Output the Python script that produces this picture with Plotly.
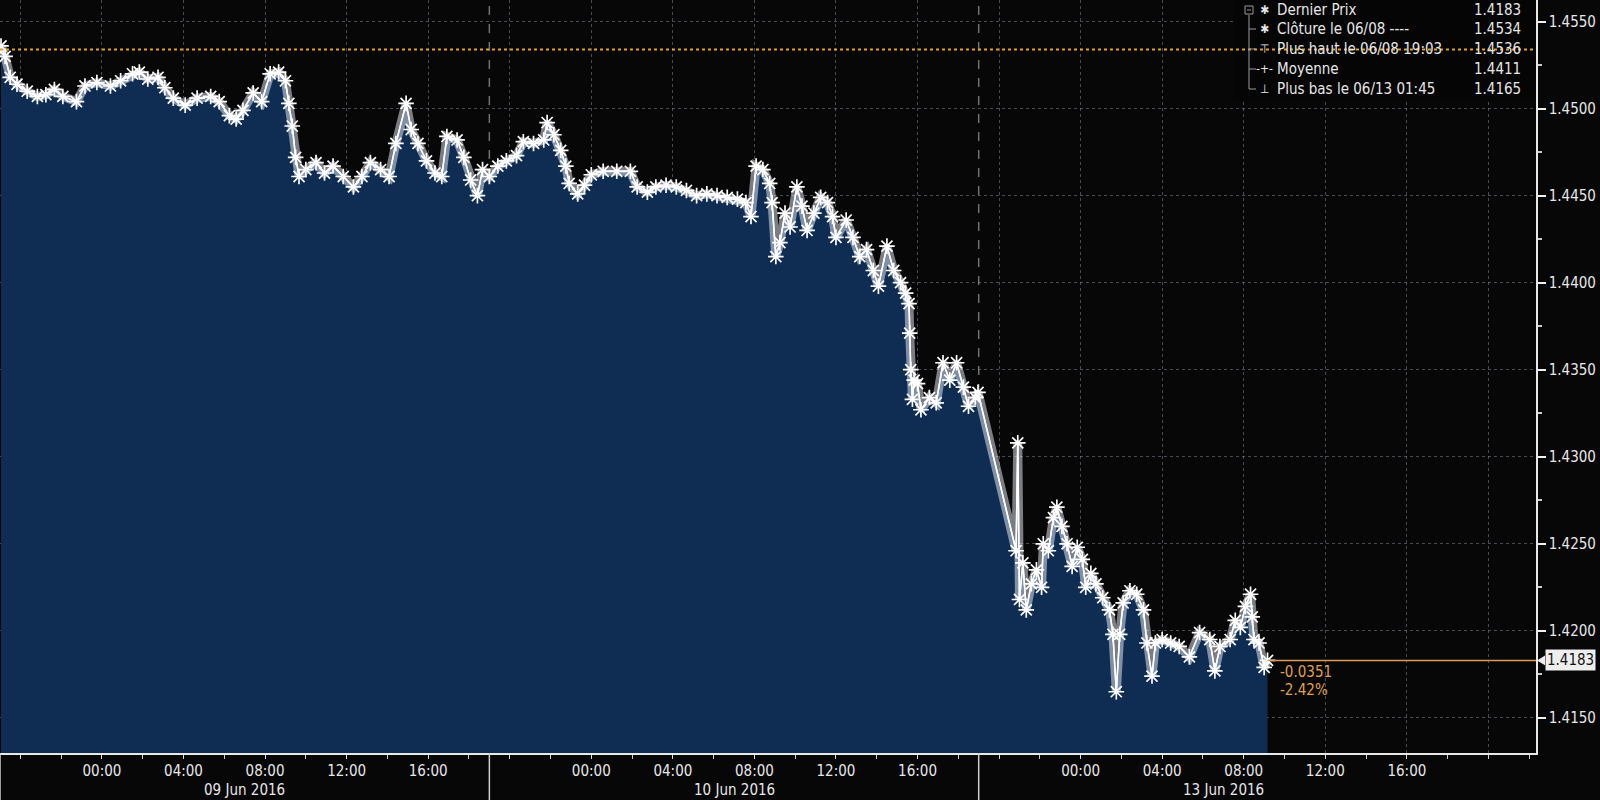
import plotly.graph_objects as go

# ---------------- data ----------------
t_0608 = ["19:03", "19:15", "19:30", "19:50", "20:20", "20:50", "21:15", "21:40", "22:05", "22:45", "23:10", "23:45"]
p_0608 = [1.4536, 1.4530, 1.4518, 1.4514, 1.4510, 1.4507, 1.4508, 1.4511, 1.4507, 1.4504, 1.4513, 1.4515]

t_0609 = ["00:25", "00:55", "01:30", "01:50", "02:15", "02:45", "03:05", "03:30", "04:05", "04:40",
          "05:20", "05:45", "06:15", "06:35", "06:55", "07:25", "07:50", "08:15", "08:40", "09:00",
          "09:10", "09:20", "09:30", "09:40", "10:00", "10:30", "10:55", "11:20", "11:50", "12:20",
          "12:45", "13:10", "13:40", "14:05", "14:25", "14:55", "15:10", "15:30", "15:55", "16:20",
          "16:40", "16:55", "17:25", "17:45", "18:05", "18:25", "18:40", "19:00", "19:25", "19:50",
          "20:20", "20:40", "21:10", "21:40", "21:50", "22:10", "22:30", "22:45", "22:55", "23:20",
          "23:40"]
p_0609 = [1.4513, 1.4516, 1.4520, 1.4521, 1.4517, 1.4518, 1.4512, 1.4506, 1.4502, 1.4506,
          1.4507, 1.4504, 1.4496, 1.4494, 1.4499, 1.4509, 1.4504, 1.4520, 1.4521, 1.4516,
          1.4503, 1.4490, 1.4472, 1.4461, 1.4465, 1.4469, 1.4463, 1.4467, 1.4461, 1.4455,
          1.4461, 1.4469, 1.4465, 1.4461, 1.4480, 1.4503, 1.4488, 1.4480, 1.4470, 1.4463,
          1.4461, 1.4484, 1.4482, 1.4472, 1.4459, 1.4450, 1.4465, 1.4461, 1.4467, 1.4470,
          1.4473, 1.4481, 1.4480, 1.4482, 1.4492, 1.4485, 1.4476, 1.4467, 1.4457, 1.4451,
          1.4456]

t_0610 = ["00:00", "00:35", "01:15", "01:55", "02:15", "02:45", "03:10", "03:40", "04:10", "04:40",
          "05:10", "05:40", "06:10", "06:40", "07:10", "07:35", "07:50", "08:05", "08:25", "08:45",
          "08:52", "09:03", "09:15", "09:30", "09:45", "10:05", "10:20", "10:35", "10:55", "11:15",
          "11:35", "11:50", "12:00", "12:30", "12:50", "13:10", "13:30", "13:50", "14:05", "14:30",
          "14:50", "15:10", "15:25", "15:35", "15:37", "15:40", "15:45", "15:50", "16:00", "16:10",
          "16:35", "16:55", "17:15", "17:35", "17:55", "18:15", "18:30", "18:50", "18:58"]
p_0610 = [1.4462, 1.4464, 1.4464, 1.4464, 1.4455, 1.4452, 1.4455, 1.4456, 1.4455, 1.4453,
          1.4450, 1.4451, 1.4450, 1.4449, 1.4448, 1.4446, 1.4438, 1.4467, 1.4465, 1.4457,
          1.4446, 1.4415, 1.4423, 1.4440, 1.4432, 1.4455, 1.4444, 1.4430, 1.4440, 1.4449,
          1.4446, 1.4438, 1.4426, 1.4436, 1.4426, 1.4415, 1.4419, 1.4407, 1.4398, 1.4421,
          1.4407, 1.4400, 1.4394, 1.4388, 1.4371, 1.4350, 1.4333, 1.4344, 1.4342, 1.4327,
          1.4334, 1.4331, 1.4354, 1.4344, 1.4354, 1.4340, 1.4329, 1.4334, 1.4337]

t_0612 = ["20:50", "20:55", "21:00", "21:10", "21:20", "21:35", "21:50", "22:05", "22:10", "22:25",
          "22:40", "22:50", "23:05", "23:20", "23:35", "23:50"]
p_0612 = [1.4246, 1.4308, 1.4218, 1.4239, 1.4212, 1.4227, 1.4235, 1.4225, 1.4250, 1.4246,
          1.4265, 1.4271, 1.4260, 1.4250, 1.4237, 1.4248]

t_0613 = ["00:05", "00:15", "00:30", "00:45", "01:05", "01:25", "01:35", "01:45", "01:55", "02:05",
          "02:25", "02:45", "03:05", "03:15", "03:30", "03:40", "04:00", "04:25", "04:50", "05:20",
          "05:50", "06:20", "06:35", "06:50", "07:20", "07:35", "07:50", "08:05", "08:20", "08:25",
          "08:30", "08:45", "09:00", "09:10"]
p_0613 = [1.4241, 1.4225, 1.4233, 1.4227, 1.4219, 1.4212, 1.4198, 1.4165, 1.4198, 1.4216,
          1.4223, 1.4221, 1.4212, 1.4193, 1.4174, 1.4193, 1.4195, 1.4193, 1.4191, 1.4185,
          1.4199, 1.4195, 1.4177, 1.4191, 1.4195, 1.4206, 1.4202, 1.4214, 1.4221, 1.4208,
          1.4195, 1.4193, 1.4179, 1.4183]

times = ([f"2016-06-08 {t}" for t in t_0608] + [f"2016-06-09 {t}" for t in t_0609] +
         [f"2016-06-10 {t}" for t in t_0610] + [f"2016-06-12 {t}" for t in t_0612] +
         [f"2016-06-13 {t}" for t in t_0613])
prices = p_0608 + p_0609 + p_0610 + p_0612 + p_0613

close_prev = 1.4534
high_val = 1.4536
mean_val = 1.4411
low_val = 1.4165
last_val = prices[-1]

legend_labels = ["Dernier Prix", "Clôture le 06/08 ----", "Plus haut le 06/08 19:03",
                 "Moyenne", "Plus bas le 06/13 01:45"]
legend_values = [last_val, close_prev, high_val, mean_val, low_val]
legend_icons = ["✱", "✱", "⊤", "-+-", "⊥"]

y_ticks = [1.4150, 1.4200, 1.4250, 1.4300, 1.4350, 1.4400, 1.4450, 1.4500, 1.4550]
x_tick_vals = ["2016-06-08 20:00",
               "2016-06-09 00:00", "2016-06-09 04:00", "2016-06-09 08:00", "2016-06-09 12:00",
               "2016-06-09 16:00", "2016-06-09 20:00",
               "2016-06-10 00:00", "2016-06-10 04:00", "2016-06-10 08:00", "2016-06-10 12:00",
               "2016-06-10 16:00", "2016-06-12 20:00",
               "2016-06-13 00:00", "2016-06-13 04:00", "2016-06-13 08:00", "2016-06-13 12:00",
               "2016-06-13 16:00", "2016-06-13 20:00"]
x_tick_text = ["", "00:00", "04:00", "08:00", "12:00", "16:00", "",
               "00:00", "04:00", "08:00", "12:00", "16:00", "",
               "00:00", "04:00", "08:00", "12:00", "16:00", ""]
day_labels = ["09 Jun 2016", "10 Jun 2016", "13 Jun 2016"]
day_label_pos = ["2016-06-09 07:00", "2016-06-10 07:00", "2016-06-13 07:00"]
day_separators = ["2016-06-09 19:00", "2016-06-12 19:00"]
axis_edges = ["2016-06-08 19:00", "2016-06-09 19:00", "2016-06-12 19:00"]
x_range = ["2016-06-08 19:00", "2016-06-13 22:20"]
y_range = [1.41298, 1.45624]
weekend_gap_start = "2016-06-10 19:00"
weekend_gap_ms = 48 * 3600 * 1000

# ---------------- styling ----------------
FONT = "DejaVu Sans Condensed, DejaVu Sans, sans-serif"
TXT = "#e6e6e6"
ORANGE = "#e0a050"
BG = "#070708"
FILL = "#0f2c52"
GRID = "rgba(150,160,180,0.45)"

W, H = 1600, 800
ML, MR, MT, MB = 0, 64, 0, 47
PW, PH = W - ML - MR, H - MT - MB


def px(x):
    return x / PW


def py(y):
    return 1 - y / PH


fig = go.Figure()
# filled area + base line
fig.add_trace(go.Scatter(
    x=times, y=prices, mode="lines",
    line=dict(color="white", width=1.5),
    fill="tozeroy", fillcolor=FILL, hoverinfo="skip",
))
# soft glow of the price band
fig.add_trace(go.Scatter(
    x=times, y=prices, mode="lines",
    line=dict(color="rgba(240,244,252,0.5)", width=9),
    hoverinfo="skip",
))
# asterisk markers on every tick
fig.add_trace(go.Scatter(
    x=times, y=prices, mode="lines+markers",
    line=dict(color="white", width=1.5),
    marker=dict(symbol="asterisk-open", size=13, color="white",
                line=dict(color="white", width=1.7)),
    hoverinfo="skip",
))

shapes = []
for s in day_separators:
    shapes.append(dict(type="line", xref="x", yref="paper", x0=s, x1=s, y0=0, y1=1,
                       line=dict(color="rgba(170,170,170,0.65)", width=1.5, dash="dash"),
                       layer="below"))
for s in axis_edges:
    shapes.append(dict(type="line", xref="x", yref="paper", x0=s, x1=s, y0=-MB / PH, y1=0,
                       line=dict(color="#cfcfcf", width=1.5)))
# legend background box
shapes.append(dict(type="rect", xref="paper", yref="paper", x0=px(1233), x1=1,
                   y0=py(100), y1=1, fillcolor="#050505", line=dict(width=0), layer="above"))
# previous close dotted line
shapes.append(dict(type="line", xref="paper", yref="y", x0=0, x1=1, y0=close_prev, y1=close_prev,
                   line=dict(color="#e0a030", width=2, dash="dot"), layer="above"))
# last price line
shapes.append(dict(type="line", xref="x", yref="y", x0=times[-1], x1=x_range[1],
                   y0=last_val, y1=last_val, line=dict(color="#d89a55", width=1.5), layer="above"))
# pointer of the last price label
shapes.append(dict(type="path", xref="paper", yref="y",
                   path=f"M {px(1537)},{last_val} L {px(1545)},{last_val + 0.00028} "
                        f"L {px(1545)},{last_val - 0.00028} Z",
                   fillcolor="#eeeeee", line=dict(width=0)))

rows_y = [10, 29, 49, 69, 89]
# legend tree
shapes.append(dict(type="line", xref="paper", yref="paper", x0=px(1249), x1=px(1249),
                   y0=py(15), y1=py(rows_y[-1]), line=dict(color="#9a9a9a", width=1)))
for ry in rows_y[1:]:
    shapes.append(dict(type="line", xref="paper", yref="paper", x0=px(1249), x1=px(1256),
                       y0=py(ry), y1=py(ry), line=dict(color="#9a9a9a", width=1)))
shapes.append(dict(type="rect", xref="paper", yref="paper", x0=px(1245), x1=px(1253),
                   y0=py(rows_y[0] + 4), y1=py(rows_y[0] - 4), fillcolor="#050505",
                   line=dict(color="#9a9a9a", width=1)))
shapes.append(dict(type="line", xref="paper", yref="paper", x0=px(1247), x1=px(1251),
                   y0=py(rows_y[0]), y1=py(rows_y[0]), line=dict(color="#9a9a9a", width=1)))

annotations = []
for txt, pos in zip(day_labels, day_label_pos):
    annotations.append(dict(x=pos, y=-(790 - PH) / PH, xref="x", yref="paper", text=txt,
                            showarrow=False, xanchor="center", yanchor="middle",
                            font=dict(family=FONT, size=15, color=TXT)))

for lab, val, icon, ry in zip(legend_labels, legend_values, legend_icons, rows_y):
    annotations.append(dict(x=px(1264), y=py(ry), xref="paper", yref="paper", text=icon,
                            showarrow=False, xanchor="center", yanchor="middle",
                            font=dict(family=FONT, size=12, color=TXT)))
    annotations.append(dict(x=px(1275), y=py(ry), xref="paper", yref="paper", text=lab,
                            showarrow=False, xanchor="left", yanchor="middle",
                            font=dict(family=FONT, size=15, color=TXT)))
    annotations.append(dict(x=px(1523), y=py(ry), xref="paper", yref="paper",
                            text=f"{val:.4f}", showarrow=False, xanchor="right", yanchor="middle",
                            font=dict(family=FONT, size=15, color=TXT)))

change = last_val - close_prev
pct = change / close_prev * 100
annotations.append(dict(x=times[-1], y=last_val, xref="x", yref="y", text=f"{change:.4f}",
                        showarrow=False, xanchor="left", yanchor="middle", xshift=10, yshift=-12,
                        font=dict(family=FONT, size=15, color=ORANGE)))
annotations.append(dict(x=times[-1], y=last_val, xref="x", yref="y", text=f"{pct:.2f}%",
                        showarrow=False, xanchor="left", yanchor="middle", xshift=10, yshift=-30,
                        font=dict(family=FONT, size=15, color=ORANGE)))
annotations.append(dict(x=1, y=last_val, xref="paper", yref="y", text=f"{last_val:.4f}",
                        showarrow=False, xanchor="left", yanchor="middle", xshift=9,
                        bgcolor="#eeeeee", borderpad=1,
                        font=dict(family=FONT, size=15, color="#111111")))

fig.update_layout(
    width=W, height=H,
    margin=dict(l=ML, r=MR, t=MT, b=MB),
    paper_bgcolor=BG, plot_bgcolor=BG,
    showlegend=False, hovermode=False,
    shapes=shapes, annotations=annotations,
    font=dict(family=FONT, size=15, color=TXT),
)
fig.update_xaxes(
    type="date", range=x_range,
    rangebreaks=[dict(values=[weekend_gap_start], dvalue=weekend_gap_ms)],
    tickmode="array", tickvals=x_tick_vals, ticktext=x_tick_text,
    showgrid=True, gridcolor=GRID, griddash="dot", gridwidth=1,
    showline=True, linecolor="#e8e8e8", linewidth=1.5,
    ticks="outside", ticklen=3, tickcolor="#dddddd", tickwidth=1,
    tickfont=dict(family=FONT, size=15, color=TXT),
    minor=dict(ticks="outside", ticklen=4, tickcolor="#cccccc", dtick=2 * 3600 * 1000,
               tick0="2016-06-08 00:00", showgrid=False),
    zeroline=False,
)
fig.update_yaxes(
    side="right", range=y_range,
    tickmode="array", tickvals=y_ticks, ticktext=[f"{v:.4f}" for v in y_ticks],
    showgrid=True, gridcolor=GRID, griddash="dot", gridwidth=1,
    showline=True, linecolor="#e8e8e8", linewidth=1.5,
    ticks="outside", ticklen=8, tickwidth=2, tickcolor="#f0f0f0",
    tickfont=dict(family=FONT, size=15, color=TXT),
    minor=dict(ticks="outside", ticklen=4, tickcolor="#cccccc", dtick=0.0025, tick0=1.4150,
               showgrid=False),
    zeroline=False,
)

fig.write_html("out.html", config={"displayModeBar": False},
               post_script="document.body.style.margin='0';document.body.style.overflow='hidden';"
                           "document.body.style.background='#070708';")
